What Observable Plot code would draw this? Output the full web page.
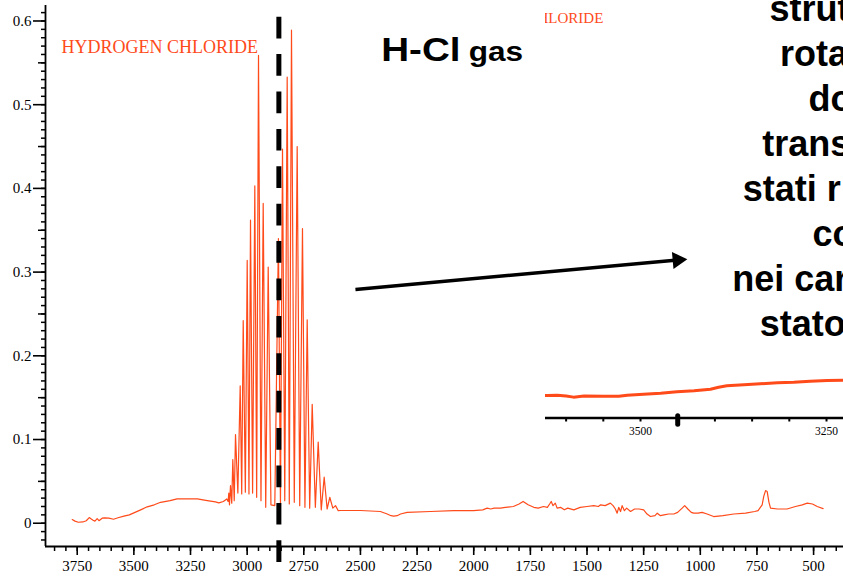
<!DOCTYPE html>
<html>
<head>
<meta charset="utf-8">
<script src="https://cdn.jsdelivr.net/npm/d3@7"></script>
<script src="https://cdn.jsdelivr.net/npm/@observablehq/plot@0.6"></script>
<style>
  html, body { margin: 0; padding: 0; background: #fff; overflow: hidden; }
  #stage { position: relative; width: 843px; height: 576px; overflow: hidden; background: #fff; }
  #stage > svg, #inset > svg { position: absolute; left: 0; top: 0; }
  #inset { position: absolute; left: 545px; top: 0; width: 298px; height: 445px; overflow: hidden; }
  #notes { pointer-events: none; }
</style>
</head>
<body>
<div id="stage"><div id="inset"></div></div>
<script>
// IR absorption spectrum of gaseous HCl (wavenumber in cm^-1, absorbance)
const spectrumWn = [
  3772, 3760, 3745, 3725, 3710, 3697, 3688, 3680, 3672, 3662, 3654, 3640, 3630, 3610, 3590, 3570,
  3544, 3520, 3500, 3470, 3441, 3410, 3382, 3340, 3309, 3260, 3220, 3176, 3140, 3125, 3105, 3090,
  3084, 3081, 3078,
  // R branch
  3073.5, 3068, 3063.3, 3057, 3051.4, 3041, 3030.7, 3024, 3017.4, 3008, 2999.8, 2992, 2985.2, 2976,
  2966.2, 2958, 2949.9, 2939, 2929.2, 2918, 2907.1, 2895, 2878,
  // P branch
  2862, 2853, 2844, 2834, 2823.3, 2814, 2804.3, 2792, 2779.2, 2768, 2755.8, 2745, 2735, 2724,
  2712.9, 2699, 2686.4, 2673, 2660, 2647, 2635.3, 2622, 2610.1, 2598,
  // baseline below the band
  2588, 2500, 2412, 2382, 2365, 2353, 2338, 2323, 2294, 2191, 2089, 2001, 1960, 1941, 1925, 1910,
  1882, 1860, 1825, 1800, 1782, 1760, 1735, 1715, 1692, 1675, 1665, 1658, 1650, 1640, 1632, 1617,
  1600, 1585, 1558, 1530, 1500, 1470, 1450, 1440, 1420, 1397, 1385, 1375, 1367, 1360, 1352, 1345,
  1335, 1325, 1308, 1290, 1270, 1250, 1235, 1220, 1200, 1190, 1176, 1160, 1140, 1117, 1100, 1080,
  1069, 1055, 1040, 1029, 1010, 992, 970, 941, 900, 852, 800, 760, 745, 735, 727, 720, 712, 705,
  697, 690, 660, 617, 580, 550, 528, 505, 484, 458
];
const spectrumAbs = [
  0.0044, 0.0025, 0.0012, 0.0015, 0.003, 0.0068, 0.005, 0.0035, 0.0025, 0.0055, 0.003, 0.006, 0.0065, 0.006, 0.0048, 0.0065,
  0.0084, 0.010, 0.0124, 0.016, 0.0196, 0.022, 0.025, 0.027, 0.029, 0.0292, 0.029, 0.027, 0.0255, 0.0244, 0.026, 0.029,
  0.026, 0.036, 0.022,
  0.045, 0.024, 0.076, 0.027, 0.106, 0.036, 0.164, 0.035, 0.242, 0.037, 0.314, 0.035, 0.362, 0.036,
  0.403, 0.031, 0.559, 0.027, 0.382, 0.019, 0.306, 0.022, 0.021,
  0.34, 0.02, 0.447, 0.027, 0.533, 0.023, 0.589, 0.025, 0.450, 0.021, 0.352, 0.019, 0.243, 0.018,
  0.142, 0.019, 0.097, 0.016, 0.055, 0.017, 0.031, 0.018, 0.021, 0.015,
  0.0152, 0.0152, 0.014, 0.011, 0.009, 0.0084, 0.009, 0.011, 0.013, 0.014, 0.015, 0.015, 0.016, 0.018, 0.017, 0.018,
  0.018, 0.019, 0.020, 0.023, 0.026, 0.022, 0.019, 0.018, 0.020, 0.019, 0.023, 0.026, 0.021, 0.024, 0.018, 0.019,
  0.016, 0.018, 0.016, 0.019, 0.020, 0.021, 0.020, 0.022, 0.021, 0.024, 0.021, 0.017, 0.012, 0.019, 0.014, 0.021,
  0.015, 0.018, 0.014, 0.017, 0.017, 0.016, 0.011, 0.008, 0.009, 0.012, 0.009, 0.010, 0.011, 0.011, 0.013, 0.018,
  0.021, 0.017, 0.013, 0.012, 0.012, 0.013, 0.011, 0.008, 0.009, 0.011, 0.012, 0.014, 0.015, 0.019, 0.022, 0.032, 0.039, 0.038,
  0.025, 0.018, 0.017, 0.017, 0.020, 0.022, 0.024, 0.023, 0.020, 0.0175
];

// Enlarged view of the 3600-3250 cm^-1 stretch
const insetWn = [3645, 3625, 3612, 3600, 3590, 3576, 3549, 3529, 3518, 3496, 3473, 3451, 3428, 3406,
  3395, 3384, 3361, 3339, 3316, 3294, 3272, 3249, 3227, 3200];
const insetAbs = [0.0071, 0.0071, 0.0076, 0.0064, 0.0048, 0.0063, 0.0061, 0.0061, 0.0076, 0.009, 0.0104,
  0.0124, 0.0139, 0.0161, 0.019, 0.021, 0.0224, 0.0239, 0.0253, 0.0261, 0.0276, 0.0286, 0.029, 0.0292];
const insetCursorWn = [3450];

// Axis ticks and labels
const xTicks = [3750, 3500, 3250, 3000, 2750, 2500, 2250, 2000, 1750, 1500, 1250, 1000, 750, 500];
const xTickLabels = ["3750", "3500", "3250", "3000", "2750", "2500", "2250", "2000", "1750", "1500", "1250", "1000", "750", "500"];
const yTicks = [0, 0.1, 0.2, 0.3, 0.4, 0.5, 0.6];
const yTickLabels = ["0", "0.1", "0.2", "0.3", "0.4", "0.5", "0.6"];
const yHalfTicks = [0.05, 0.15, 0.25, 0.35, 0.45, 0.55];
const insetTicks = [3250, 3500];
const insetTickLabels = ["3250", "3500"];

// Annotations
const bandCentre = [{wn: 2860, top: 0.6045, bottom: -0.064}];
const arrowShaft = [{wn1: 2522, abs1: 0.2792, wn2: 1100, abs2: 0.3145}];
const arrowTip = [{wn: 1057, abs: 0.3155}];
const compoundName = "HYDROGEN CHLORIDE";
const insetName = "CHLORIDE";
const sampleTitle = ["H-Cl", "gas"];
const sideNote = ["strut", "rota", "do", "trans", "stati r", "co", "nei car", "stato"];

const ORANGE = "#ff4a1a";
const xMinor = d3.range(3850, 399, -50);
const yMinor = d3.range(-2, 62).map(i => i / 100);

const spectrum = spectrumWn.map((wn, i) => ({wn, abs: spectrumAbs[i]}));
const insetTrace = insetWn.map((wn, i) => ({wn, abs: insetAbs[i]}));

const X0 = 3890, X1 = 368, Y0 = -0.0278, Y1 = 0.6185;

const chart = Plot.plot({
  width: 843,
  height: 576,
  marginLeft: 45,
  marginRight: 0,
  marginTop: 5,
  marginBottom: 30,
  x: {domain: [X0, X1], label: null},
  y: {domain: [Y0, Y1], label: null},
  style: {fontFamily: "'Liberation Serif', 'Times New Roman', serif", fontSize: "15px", color: "#000", background: "transparent", maxWidth: "none", overflow: "visible"},
  marks: [
    Plot.line(spectrum, {x: "wn", y: "abs", stroke: ORANGE, strokeWidth: 1.2}),
    Plot.axisY(yMinor, {tickSize: 4, strokeWidth: 1.5, fill: "none", label: null}),
    Plot.axisY(yHalfTicks, {tickSize: 7, strokeWidth: 1.5, fill: "none", label: null}),
    Plot.axisY(yTicks, {tickSize: 12, tickPadding: 2, strokeWidth: 1.6, label: null,
      tickFormat: d => yTickLabels[yTicks.indexOf(d)]}),
    Plot.axisX(xMinor, {tickSize: 5, strokeWidth: 1.5, fill: "none", label: null}),
    Plot.axisX(xTicks, {tickSize: 9, tickPadding: 5, strokeWidth: 1.6, label: null,
      tickFormat: d => xTickLabels[xTicks.indexOf(d)]}),
    Plot.ruleX([X0], {y1: Y0, y2: Y1, strokeWidth: 1.8}),
    Plot.ruleY([Y0], {x1: X0, x2: X1, strokeWidth: 1.8}),
    Plot.ruleX(bandCentre, {x: "wn", y1: "top", y2: "bottom", stroke: "#000", strokeWidth: 5, strokeDasharray: "21.7,15.7"}),
    Plot.link(arrowShaft, {x1: "wn1", y1: "abs1", x2: "wn2", y2: "abs2", stroke: "#000", strokeWidth: 3.5}),
    Plot.dot(arrowTip, {x: "wn", y: "abs", symbol: "triangle", r: 6.3, fill: "#000", stroke: "none", rotate: 84.7, dx: -9.8, dy: 0.9})
  ]
});
const stage = document.getElementById("stage");
stage.insertBefore(chart, stage.firstChild);

// Zoomed panel
const inset = Plot.plot({
  width: 320,
  height: 445,
  marginLeft: 0,
  marginRight: 0,
  marginTop: 0,
  marginBottom: 27.5,
  x: {domain: [3627.7, 3197.6], label: null},
  y: {domain: [-0.025, 0.5714], label: null, axis: null},
  style: {fontFamily: "'Liberation Serif', 'Times New Roman', serif", fontSize: "11.5px", color: "#000", background: "transparent", maxWidth: "none", overflow: "visible"},
  marks: [
    Plot.line(insetTrace, {x: "wn", y: "abs", stroke: ORANGE, strokeWidth: 3}),
    Plot.ruleY([-0.025], {strokeWidth: 2.6}),
    Plot.axisX(d3.range(3600, 3199, -50), {tickSize: 4, strokeWidth: 2, fill: "none", label: null}),
    Plot.axisX(insetTicks, {tickSize: 0, tickPadding: 9, label: null,
      tickFormat: d => insetTickLabels[insetTicks.indexOf(d)]}),
    Plot.ruleX(insetCursorWn, {y1: -0.0226, y2: -0.0346, strokeWidth: 5, strokeLinecap: "round"})
  ]
});
document.getElementById("inset").appendChild(inset);
// panel caption, its first letters falling past the panel's left edge
d3.select(inset).append("text")
  .attr("x", -17.5).attr("y", 22.7)
  .attr("text-anchor", "start")
  .attr("fill", ORANGE)
  .style("font-family", "'Liberation Serif', 'Times New Roman', serif")
  .style("font-size", "15px")
  .text(insetName);

// Text annotations drawn over the chart
const notes = d3.select(stage).append("svg")
  .attr("id", "notes")
  .attr("width", 843).attr("height", 576);

notes.append("text")
  .attr("x", 61.6).attr("y", 53.3)
  .attr("fill", ORANGE)
  .style("font-family", "'Liberation Serif', 'Times New Roman', serif")
  .style("font-size", "18px")
  .text(compoundName);

const title = notes.append("text")
  .attr("transform", "translate(381.2,60.7) scale(1.17,1)")
  .style("font-family", "'Liberation Sans', Arial, sans-serif")
  .style("font-weight", "bold")
  .attr("fill", "#000");
title.append("tspan").style("font-size", "33px").text(sampleTitle[0]);
title.append("tspan").style("font-size", "27px").attr("dx", 7).text(sampleTitle[1]);

const sideLeft = [769.5, 780, 808.5, 762.2, 742.8, 812.5, 732.3, 759.8];
notes.selectAll("text.side")
  .data(sideNote)
  .join("text")
  .attr("class", "side")
  .attr("x", (d, i) => sideLeft[i])
  .attr("y", (d, i) => 21 + 45 * i)
  .attr("fill", "#000")
  .style("font-family", "'Liberation Sans', Arial, sans-serif")
  .style("font-weight", "bold")
  .style("font-size", "36px")
  .text(d => d);
</script>
</body>
</html>
